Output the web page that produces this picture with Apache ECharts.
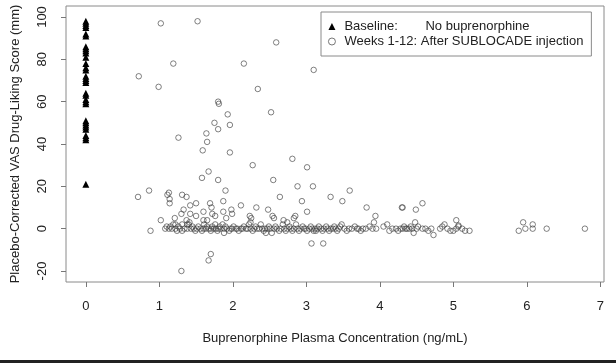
<!DOCTYPE html>
<html>
<head>
<meta charset="utf-8">
<script src="https://cdn.jsdelivr.net/npm/echarts@6/dist/echarts.min.js"></script>
<style>
html,body{margin:0;padding:0;background:#fff;}
#chart{width:616px;height:363px;}
</style>
</head>
<body>
<div id="chart"></div>
<script>
// ---- data ----
var xTicks = [0, 1, 2, 3, 4, 5, 6, 7];
var yTicks = [-20, 0, 20, 40, 60, 80, 100];

// Baseline (no buprenorphine, concentration 0): drug-liking scores
var baselineScore = [98, 97, 96, 95, 92, 91, 86, 85, 84, 83, 81, 78, 76, 75, 72, 71, 70, 69,
  64, 63, 61, 60, 59, 51, 50, 49, 48, 47, 44, 43, 42, 21];

// Weeks 1-12: points away from zero  [concentration, score]
var weeksSpread = [
  [1.02, 97], [1.52, 98], [2.59, 88], [1.19, 78], [2.15, 78], [3.10, 75], [0.72, 72], [0.99, 67],
  [2.34, 66], [1.80, 60], [1.81, 59], [2.52, 55], [1.93, 54], [1.75, 50], [1.96, 49], [1.80, 47],
  [1.26, 43], [1.64, 45], [1.65, 41], [1.59, 37], [1.96, 36], [2.81, 33], [2.27, 30], [3.01, 29],
  [1.67, 27], [1.58, 24], [2.55, 23], [1.80, 23], [2.88, 20], [3.09, 20], [3.59, 18], [1.90, 18],
  [0.86, 18], [0.71, 15], [1.13, 17], [1.11, 16], [1.31, 16], [1.37, 15], [1.14, 14], [1.14, 12],
  [2.64, 15], [3.33, 15], [3.49, 13], [2.94, 13], [4.58, 12], [4.30, 10], [4.31, 10], [4.49, 9],
  [3.82, 10], [3.94, 6], [3.01, 8], [2.85, 6], [1.69, 12], [1.50, 12], [1.42, 11], [1.87, 13],
  [2.11, 11], [2.32, 10], [2.48, 9], [1.71, 10], [1.98, 9], [1.87, 8], [1.99, 7], [1.72, 7],
  [1.60, 8], [1.33, 9], [1.30, 7], [1.42, 7], [1.50, 6], [1.21, 5], [1.02, 4], [1.91, 5],
  [2.23, 6], [2.54, 6], [1.60, 4], [5.04, 4], [5.95, 3], [6.08, 2], [5.98, 0], [5.89, -1],
  [6.08, 0], [6.27, 0], [6.79, 0], [0.88, -1], [3.07, -7], [3.23, -7], [1.70, -12], [1.67, -15],
  [1.30, -20], [4.73, -3], [2.69, 4], [1.37, 4], [2.24, 3], [1.76, 6], [2.74, 3], [2.25, 5],
  [2.56, 5], [2.83, 5], [3.92, 3], [4.48, 3], [5.07, 1.5], [1.65, 4], [1.41, 3], [1.38, 2], [1.22, 2]
];

// Weeks 1-12: dense band around zero  [concentration, score]
var weeksBand = [
  [1.08, 0], [1.10, 1], [1.13, 0], [1.15, 1], [1.17, 0], [1.19, 2], [1.22, 0], [1.24, -1], [1.26, 1],
  [1.28, 0], [1.31, 2], [1.31, -1], [1.34, 0], [1.38, 0], [1.40, 2], [1.43, 0], [1.45, 1], [1.47, 0],
  [1.49, -1], [1.51, 0], [1.53, 1], [1.56, 0], [1.58, -1], [1.60, 0], [1.61, 2], [1.63, 0], [1.65, 1],
  [1.67, 0], [1.70, -1], [1.70, 0], [1.72, 1], [1.74, 0], [1.76, 2], [1.77, 0], [1.79, -1], [1.80, 0],
  [1.82, 1], [1.83, 0], [1.86, 2], [1.88, -2], [1.88, 0], [1.90, 1], [1.92, 0], [1.95, -1], [1.97, 0],
  [1.99, 0], [2.01, 1], [2.04, 0], [2.06, 0], [2.08, -1], [2.11, 0], [2.13, 0], [2.15, 1], [2.18, 0],
  [2.20, 0], [2.22, 2], [2.24, 0], [2.27, -1], [2.29, 0], [2.31, 1], [2.33, 0], [2.36, 0], [2.38, 2],
  [2.40, 0], [2.42, -1], [2.44, 0], [2.45, -2], [2.47, 0], [2.49, 1], [2.51, 0], [2.53, -2], [2.56, 0],
  [2.58, 1], [2.60, 0], [2.63, -1], [2.65, 0], [2.68, 2], [2.70, 0], [2.72, -1], [2.74, 0], [2.77, 1],
  [2.79, 0], [2.81, -1], [2.83, 0], [2.86, 2], [2.88, 0], [2.90, -1], [2.92, 0], [2.95, 1], [2.97, 0],
  [2.99, 0], [3.01, -1], [3.04, 0], [3.06, 1], [3.08, 0], [3.10, -1], [3.12, 0], [3.13, -1], [3.15, 0],
  [3.17, 1], [3.20, 0], [3.22, -1], [3.24, 0], [3.27, 1], [3.29, 0], [3.31, -1], [3.33, 0], [3.36, 0],
  [3.38, 1], [3.40, 0], [3.42, -1], [3.44, 0], [3.46, 1], [3.48, 2], [3.52, 0], [3.55, -1], [3.58, 0],
  [3.62, 0], [3.66, 1], [3.69, 0], [3.71, 0], [3.74, -1], [3.77, 0], [3.81, 0], [3.86, 1], [3.90, 0],
  [3.95, 0], [4.05, 1], [4.10, 2], [4.13, -1], [4.17, 0], [4.22, 0], [4.25, -1], [4.28, 0], [4.31, 0],
  [4.33, 1], [4.35, 0], [4.37, 0], [4.40, 0], [4.42, 1], [4.44, 0], [4.46, -2], [4.50, 0], [4.52, 1],
  [4.58, 0], [4.62, 0], [4.66, -1], [4.70, 0], [4.82, 0], [4.85, 1], [4.88, 2], [4.92, 0], [4.96, -1],
  [5.00, -1], [5.04, 0], [5.07, 1], [5.12, 0], [5.16, -1], [5.22, -1]
];

// ---- chart ----
var FONT = '"Liberation Sans", Arial, sans-serif';
var TXT = '#222';
var PT = 'rgba(60,60,60,0.72)';
var baselineData = baselineScore.map(function (v) { return [0, v]; });
var weeksData = weeksSpread.concat(weeksBand);

var chart = echarts.init(document.getElementById('chart'), null, {renderer: 'canvas'});
chart.setOption({
  animation: false,
  backgroundColor: '#fff',
  grid: {left: 66, right: 12, top: 6, bottom: 81, show: true, borderColor: '#8a8a8a', borderWidth: 1, containLabel: false},
  xAxis: {
    type: 'value', min: -0.27, max: 7.05,
    name: 'Buprenorphine Plasma Concentration (ng/mL)', nameLocation: 'middle', nameGap: 50,
    nameTextStyle: {fontSize: 13, color: TXT, fontFamily: FONT},
    axisLine: {show: false, onZero: false},
    splitLine: {show: false},
    axisTick: {show: true, customValues: xTicks, length: 5, inside: false, lineStyle: {color: '#777'}},
    axisLabel: {customValues: xTicks, fontSize: 13, color: TXT, fontFamily: FONT, margin: 18}
  },
  yAxis: {
    type: 'value', min: -25.2, max: 105.2,
    name: 'Placebo-Corrected VAS Drug-Liking Score (mm)', nameLocation: 'middle', nameGap: 44, nameRotate: 90,
    nameTextStyle: {fontSize: 13, color: TXT, fontFamily: FONT},
    axisLine: {show: false, onZero: false},
    splitLine: {show: false},
    axisTick: {show: true, customValues: yTicks, length: 5, inside: false, lineStyle: {color: '#777'}},
    axisLabel: {customValues: yTicks, fontSize: 13, color: TXT, fontFamily: FONT, margin: 17, rotate: 90}
  },
  legend: {
    orient: 'vertical', left: 321, top: 12,
    padding: [8, 8, 8, 7], itemGap: 2, itemWidth: 7, itemHeight: 7,
    borderColor: '#8a8a8a', borderWidth: 1, borderRadius: 0,
    data: [
      {name: 'Baseline', icon: 'triangle', itemStyle: {color: '#000', borderWidth: 0}},
      {name: 'Weeks', icon: 'circle', itemStyle: {color: 'rgba(0,0,0,0)', borderColor: '#666', borderWidth: 0.9}}
    ],
    formatter: function (name) {
      return name === 'Baseline' ? '{a|Baseline:}{b|No buprenorphine}' : '{c|Weeks 1-12: After SUBLOCADE injection}';
    },
    textStyle: {
      fontSize: 13, color: TXT, fontFamily: FONT,
      rich: {
        a: {fontSize: 13, color: TXT, fontFamily: FONT, width: 81, padding: [0, 0, 0, 4]},
        b: {fontSize: 13, color: TXT, fontFamily: FONT},
        c: {fontSize: 13, color: TXT, fontFamily: FONT, padding: [0, 0, 0, 4]}
      }
    }
  },
  graphic: [
    {type: 'rect', left: 0, top: 360, shape: {width: 616, height: 3}, style: {fill: '#222'}, silent: true}
  ],
  series: [
    {
      name: 'Baseline', type: 'scatter', data: baselineData, symbol: 'triangle', symbolSize: 7,
      itemStyle: {color: '#000', opacity: 1}, z: 3
    },
    {
      name: 'Weeks', type: 'scatter', data: weeksData, symbol: 'circle', symbolSize: 5.5,
      itemStyle: {color: 'rgba(0,0,0,0)', borderColor: PT, borderWidth: 0.9, opacity: 1}, z: 2
    }
  ]
});
</script>
</body>
</html>
